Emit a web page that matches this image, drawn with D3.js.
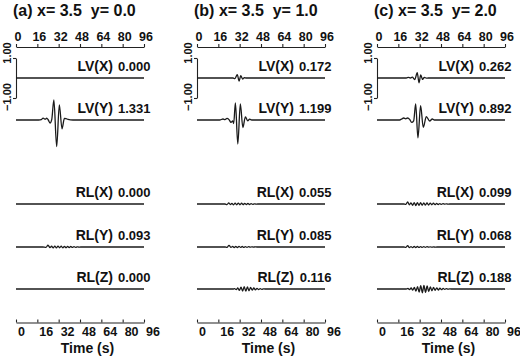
<!DOCTYPE html>
<html>
<head>
<meta charset="utf-8">
<script src="https://cdn.jsdelivr.net/npm/d3@7"></script>
<style>
  body { margin: 0; background: #fff; }
  svg { font-family: "Liberation Sans", Arial, sans-serif; font-weight: bold; }
  text { white-space: pre; fill: #111; }
</style>
</head>
<body>
<svg id="chart" width="520" height="358"></svg>
<script>
// panel titles, trace names, peak values, time ticks
const titles = ["(a) x= 3.5  y= 0.0", "(b) x= 3.5  y= 1.0", "(c) x= 3.5  y= 2.0"];
const names = ["LV(X)", "LV(Y)", "RL(X)", "RL(Y)", "RL(Z)"];
const peaksA = [0.000, 1.331, 0.000, 0.093, 0.000];
const peaksB = [0.172, 1.199, 0.055, 0.085, 0.116];
const peaksC = [0.262, 0.892, 0.099, 0.068, 0.188];
const timeTicks = [0, 16, 32, 48, 64, 80, 96];
const barTicks = [1, -1];

// waveforms: [time (s), amplitude]
const aLVX = [[0, 0], [96, 0]];
const aLVY = [[0, 0], [17, 0], [19, 0.02], [20.3, 0.09], [22, 0.04], [23, 0.09], [24.2, 0.0], [25.5, -0.15], [26.8, 0.02],
  [28.4, 1.0], [30.5, -1.331], [32.5, 0.76], [34.5, -0.44], [36.3, 0.08], [37.5, 0.07], [39, 0.03], [42.7, 0], [96, 0]];
const aRLX = [[0, 0], [96, 0]];
const aRLY = [[0, 0], [20, 0], [22.5, -0.02], [24, 0.093], [25.5, -0.03], [26.7, 0.04], [27.9, -0.045], [29.1, 0.045],
  [30.3, -0.045], [31.5, 0.045], [32.7, -0.04], [33.9, 0.04], [35.1, -0.04], [36.3, 0.035], [37.5, -0.035], [38.7, 0.03],
  [39.9, -0.03], [41.1, 0.025], [42.3, -0.02], [43.5, 0.02], [44.7, -0.015], [45.9, 0.01], [47.1, -0.005], [48.5, 0], [96, 0]];
const aRLZ = [[0, 0], [96, 0]];

const bLVX = [[0, 0], [27, 0], [28.5, -0.03], [30.2, 0.172], [31.6, -0.15], [32.8, 0.12], [34.2, -0.05], [35.5, 0.02], [37, 0], [96, 0]];
const bLVY = [[0, 0], [17, 0], [19.5, 0.05], [21, 0.02], [22.5, 0.08], [24, 0.02], [25.5, -0.12], [26.8, -0.04], [27.5, -0.18],
  [28.8, 0.85], [30.6, -1.199], [32.5, 0.8], [34.4, -0.38], [36.3, 0.16], [38, -0.04], [39.5, 0.04], [41, 0], [96, 0]];
const bRLX = [[0, 0], [21, 0], [22.5, -0.03], [23.8, 0.055], [25, -0.03], [26.2, 0.03], [27.4, -0.04], [28.6, 0.04],
  [29.8, -0.04], [31, 0.045], [32.2, -0.04], [33.4, 0.04], [34.6, -0.035], [35.8, 0.035], [37, -0.03], [38.2, 0.03],
  [39.4, -0.025], [40.6, 0.02], [41.8, -0.015], [43, 0.01], [44.2, -0.005], [45.5, 0], [96, 0]];
const bRLY = [[0, 0], [21, 0], [22.5, -0.02], [24, 0.085], [25.5, -0.02], [26.7, 0.03], [27.9, -0.03], [29.1, 0.03],
  [30.3, -0.025], [31.5, 0.03], [32.7, -0.02], [33.9, 0.025], [35.1, -0.02], [36.3, 0.02], [37.5, -0.015], [38.7, 0.015],
  [39.9, -0.01], [41.1, 0.01], [42.3, -0.005], [43.5, 0.005], [45, 0], [96, 0]];
const bRLZ = [[0, 0], [27, 0], [28.2, 0.02], [29.4, -0.035], [30.6, 0.05], [31.8, -0.07], [33, 0.09], [34.2, -0.105],
  [35.4, 0.116], [36.6, -0.11], [37.8, 0.1], [39, -0.09], [40.2, 0.075], [41.4, -0.06], [42.6, 0.05], [43.8, -0.04],
  [45, 0.035], [46.2, -0.03], [47.4, 0.02], [48.6, -0.015], [49.8, 0.01], [51, 0], [96, 0]];

const cLVX = [[0, 0], [22, 0], [23.5, 0.03], [25, 0.0], [26.5, 0.04], [28.3, -0.08], [30.2, 0.262], [31.5, -0.24],
  [32.8, 0.15], [34.2, -0.07], [35.5, 0.03], [37, -0.01], [38.5, 0], [96, 0]];
const cLVY = [[0, 0], [17, 0], [18.5, 0.05], [20, 0.1], [21.5, 0.06], [23, 0.1], [24.5, 0.03], [26, -0.12], [27.5, -0.04],
  [29, 0.8], [30.7, -0.892], [32.7, 0.72], [34.7, -0.37], [37, 0.17], [39.5, -0.05], [41.5, 0.05], [43, 0], [96, 0]];
const cRLX = [[0, 0], [20, 0], [21.5, -0.02], [23, 0.099], [24.3, -0.04], [25.5, 0.06], [26.7, -0.07], [27.9, 0.07],
  [29.1, -0.075], [30.3, 0.07], [31.5, -0.07], [32.7, 0.065], [33.9, -0.06], [35.1, 0.06], [36.3, -0.055], [37.5, 0.05],
  [38.7, -0.05], [39.9, 0.045], [41.1, -0.04], [42.3, 0.04], [43.5, -0.035], [44.7, 0.03], [45.9, -0.025], [47.1, 0.02],
  [48.3, -0.02], [49.5, 0.015], [50.7, -0.01], [51.9, 0.01], [53.1, -0.005], [54.5, 0], [96, 0]];
const cRLY = [[0, 0], [20, 0], [21.5, -0.02], [23, 0.068], [24.3, -0.03], [25.5, 0.02], [26.7, -0.03], [27.9, 0.025],
  [29.1, -0.025], [30.3, 0.025], [31.5, -0.02], [32.7, 0.02], [33.9, -0.02], [35.1, 0.015], [36.3, -0.015], [37.5, 0.015],
  [38.7, -0.01], [39.9, 0.01], [41.1, -0.01], [42.3, 0.005], [43.5, -0.005], [45, 0], [96, 0]];
const cRLZ = [[0, 0], [22, 0], [23.2, 0.03], [24.4, -0.03], [25.6, 0.05], [26.8, -0.06], [28, 0.08], [29.2, -0.1],
  [30.4, 0.12], [31.6, -0.15], [32.8, 0.17], [34, -0.188], [35.2, 0.18], [36.4, -0.17], [37.6, 0.15], [38.8, -0.13],
  [40, 0.11], [41.2, -0.09], [42.4, 0.08], [43.6, -0.07], [44.8, 0.06], [46, -0.05], [47.2, 0.04], [48.4, -0.035],
  [49.6, 0.03], [50.8, -0.02], [52, 0.015], [53.2, -0.01], [54.4, 0.005], [55.5, 0], [96, 0]];

const panelPeaks = [peaksA, peaksB, peaksC];
const panelTraces = [
  [aLVX, aLVY, aRLX, aRLY, aRLZ],
  [bLVX, bLVY, bRLX, bRLY, bRLZ],
  [cLVX, cLVY, cRLX, cRLY, cRLZ]
];

// layout
const panelX = [16, 197, 377];
const plotW = 128;
const rowY = [78, 120, 204, 247, 289];
const topAxisY = 47;
const bottomAxisY = 322.5;
const ampHalf = 20; // pixels for an amplitude of 1.00

const svg = d3.select("#chart");
const amp = d3.scaleLinear().domain([-1, 1]).range([ampHalf, -ampHalf]);
const fmt = d3.format(".3f");

panelX.forEach(function (x0, p) {
  const x = d3.scaleLinear().domain([0, 96]).range([x0, x0 + plotW]);
  const g = svg.append("g").attr("class", "panel");

  // title
  g.append("text")
    .attr("x", x0 - 3)
    .attr("y", 16)
    .attr("font-size", 16)
    .text(titles[p]);

  // top time axis
  const top = g.append("g")
    .attr("transform", "translate(0," + topAxisY + ")")
    .call(d3.axisTop(x).tickValues(timeTicks).tickSize(3).tickSizeOuter(0).tickPadding(3));
  top.selectAll("text").attr("font-size", 12.5).attr("dx", 1.5);

  // bottom time axis (ticks point up)
  const bottom = g.append("g")
    .attr("transform", "translate(0," + bottomAxisY + ")")
    .call(d3.axisBottom(x).tickValues(timeTicks).tickSize(-3).tickSizeOuter(0).tickPadding(5));
  bottom.selectAll("text").attr("font-size", 12.5).attr("text-anchor", "start").attr("dx", 1.5);

  [top, bottom].forEach(function (ax) {
    ax.attr("font-family", null).attr("font-size", null);
    ax.selectAll("path, line").attr("stroke", "#222").attr("stroke-width", 1.1);
    ax.selectAll("text").attr("fill", "#111");
  });

  // amplitude scale bar beside the first trace
  const bar = d3.scaleLinear().domain([-1, 1]).range([rowY[0] + ampHalf, rowY[0] - ampHalf]);
  const barG = g.append("g")
    .attr("transform", "translate(" + x0 + ",0)")
    .call(d3.axisLeft(bar).tickValues(barTicks).tickSize(3).tickSizeOuter(0).tickFormat(d3.format(".2f")));
  barG.attr("font-family", null).attr("font-size", null);
  barG.selectAll("path, line").attr("stroke", "#222").attr("stroke-width", 1.1);
  barG.selectAll("text").remove();
  barTicks.forEach(function (v) {
    const yy = bar(v) + (v > 0 ? -5 : -1);
    g.append("text")
      .attr("transform", "translate(" + (x0 - 5) + "," + yy + ") rotate(-90)")
      .attr("text-anchor", "middle")
      .attr("font-size", 11)
      .text(d3.format(".2f")(v));
  });

  // traces
  const line = d3.line()
    .x(function (d) { return x(d[0]); })
    .y(function (d) { return amp(d[1]); })
    .curve(d3.curveMonotoneX);

  panelTraces[p].forEach(function (trace, i) {
    const row = g.append("g").attr("transform", "translate(0," + rowY[i] + ")");
    row.append("path")
      .datum(trace)
      .attr("d", line)
      .attr("fill", "none")
      .attr("stroke", "#1a1a1a")
      .attr("stroke-width", 1.3)
      .attr("stroke-linejoin", "round");
    row.append("text")
      .attr("x", x0 + 97)
      .attr("y", -7)
      .attr("text-anchor", "end")
      .attr("font-size", 14)
      .text(names[i]);
    row.append("text")
      .attr("x", x0 + 134.5)
      .attr("y", -7)
      .attr("text-anchor", "end")
      .attr("font-size", 13)
      .text(fmt(panelPeaks[p][i]));
  });

  // x label
  g.append("text")
    .attr("x", x0 + 71.5)
    .attr("y", 353)
    .attr("text-anchor", "middle")
    .attr("font-size", 14)
    .text("Time (s)");
});
</script>
</body>
</html>
